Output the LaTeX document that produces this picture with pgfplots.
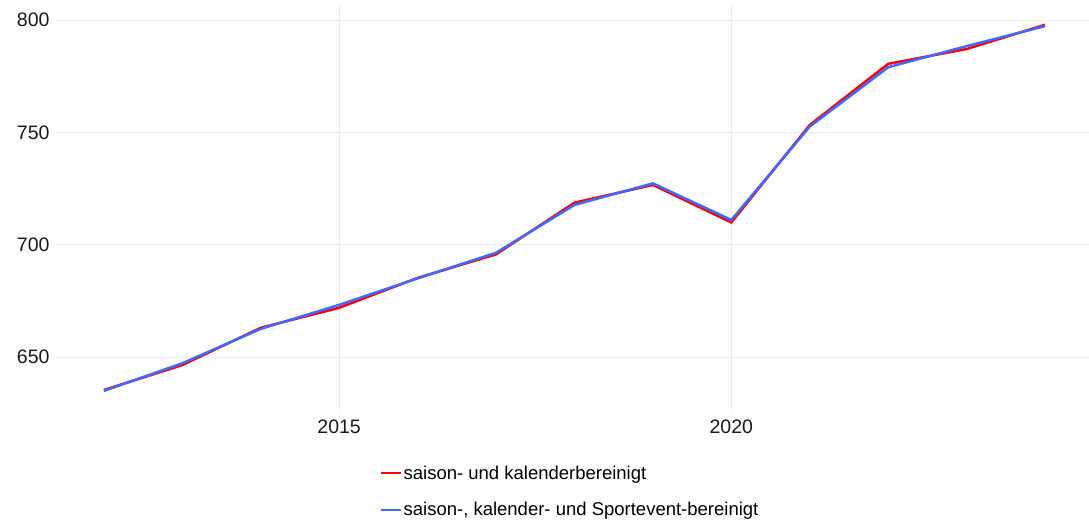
\documentclass[border=0pt]{standalone}
\usepackage{fontspec}
\setmainfont{Liberation Sans}
\usepackage{pgfplots}
\pgfplotsset{compat=1.18}
\definecolor{rline}{HTML}{FF0000}
\definecolor{bline}{HTML}{3D6BFF}
\definecolor{gridc}{HTML}{EBEBEB}
\begin{document}
\begin{tikzpicture}
\begin{axis}[name=ax,
  at={(0,0)}, anchor=south west,
  scale only axis, width=1033bp, height=405bp,
  xmin=2011.39, xmax=2024.56, ymin=626.4, ymax=806.7,
  xtick={2015,2020}, ytick={650,700,750,800},
  xticklabels={2015,2020},
  /pgf/number format/assume math mode=true,
  /pgf/number format/1000 sep={},
  tick label style={font=\fontsize{19.5bp}{23bp}\selectfont, text=black!90},
  yticklabel style={xshift=-3bp},
  xticklabel style={yshift=-6bp},
  major tick length=0pt,
  axis line style={draw=none},
  grid=major, major grid style={gridc, line width=0.8bp},
  legend style={at={(0.4975,-0.132)}, anchor=north, draw=none, fill=none,
    font=\fontsize{18.5bp}{22bp}\selectfont, row sep=18bp, inner sep=0pt,
    cells={anchor=west}, legend cell align=left},
  legend image code/.code={\draw[#1, line width=2.2bp] (0bp,0bp) -- (20bp,0bp);},
]
\addplot[rline, line width=2.5bp] coordinates {
(2012,635.3) (2013,646.4) (2014,663.0) (2015,671.9) (2016,685.2) (2017,695.7)
(2018,718.7) (2019,726.6) (2020,709.9) (2021,753.3) (2022,780.5) (2023,787.1) (2024,797.9)};
\addlegendentry{saison- und kalenderbereinigt}
\addplot[bline, line width=2.5bp] coordinates {
(2012,634.9) (2013,647.2) (2014,662.5) (2015,673.2) (2016,685.0) (2017,696.4)
(2018,717.7) (2019,727.3) (2020,711.0) (2021,752.6) (2022,779.0) (2023,788.4) (2024,797.3)};
\addlegendentry{saison-, kalender- und Sportevent-bereinigt}
\end{axis}
\pgfresetboundingbox
\path[use as bounding box] (-56bp,-115bp) rectangle (1033bp,410bp);
\end{tikzpicture}
\end{document}
